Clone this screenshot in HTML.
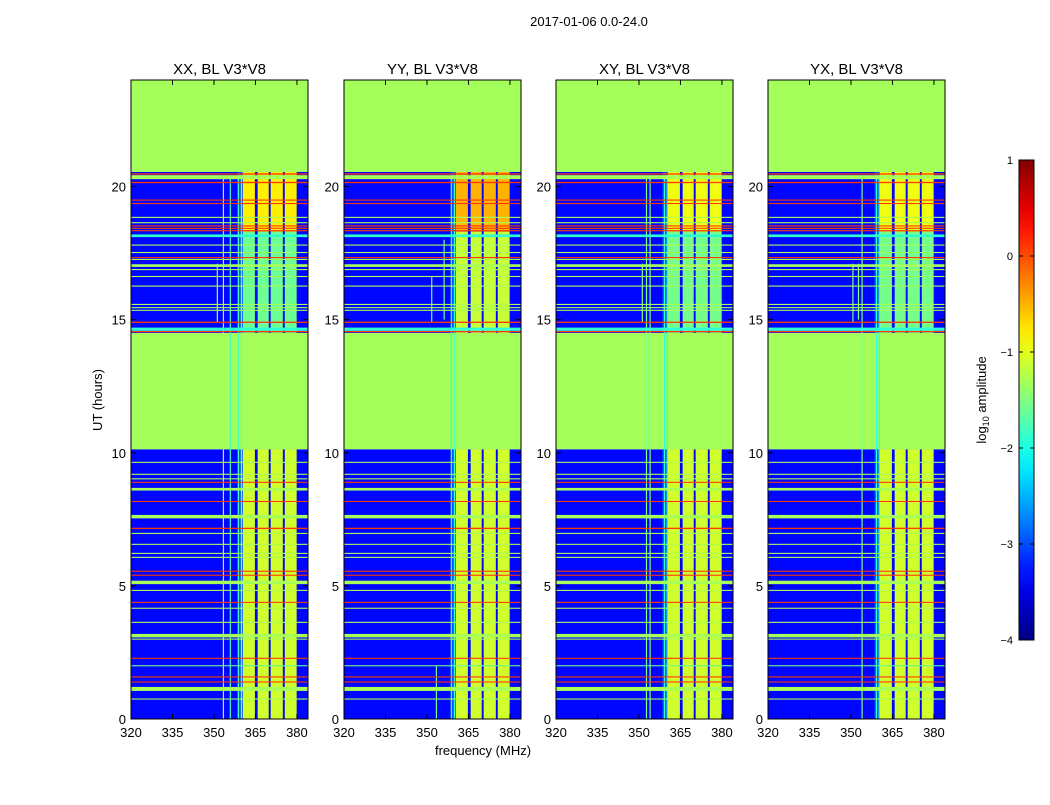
<!DOCTYPE html>
<html><head><meta charset="utf-8"><style>
body{margin:0;background:#fff;}
svg text{font-family:"Liberation Sans",sans-serif;fill:#000;}
</style></head><body>
<svg id="fig" width="1050" height="800" xmlns="http://www.w3.org/2000/svg">
<rect width="1050" height="800" fill="#fff"/>
<text x="589" y="26" font-size="13" text-anchor="middle">2017-01-06 0.0-24.0</text>
<text x="483" y="755" font-size="13" text-anchor="middle">frequency (MHz)</text>
<text transform="translate(102,400) rotate(-90)" font-size="13" text-anchor="middle">UT (hours)</text>
<g id="panels"></g>
<g id="cbar"></g>
</svg>
<script>
const panelTitles=["XX, BL V3*V8","YY, BL V3*V8","XY, BL V3*V8","YX, BL V3*V8"];
const xTicks=[320,335,350,365,380];
const yTicks=[0,5,10,15,20];
const cbTicks=[1,0,-1,-2,-3,-4];
// time segments: [t0,t1,backgroundLevel,bandLevel]
const segStart=[0,10.13,14.5,20.55];
const segEnd=[10.13,14.5,20.55,24];
const segBg=[-3.35,-1.32,-3.35,-1.32];
const segBand=[-1.1,-1.32,-1.6,-1.32];
const upperBand=[-0.8,-0.5,-0.95,-0.95];
const midBand=[-1.6,-1.15,-1.55,-1.55];
const bandF0=[360.4,365.8,370.5,375.6];
const bandF1=[364.8,369.8,374.9,379.9];
// RFI lines: time (h), thickness (h), level
const rfiT=[0.75,1.13,1.39,1.58,2.0,2.28,3.0,3.13,3.63,4.16,4.38,4.83,5.13,5.40,5.55,6.07,6.22,6.56,6.97,7.16,7.60,8.17,8.63,8.89,9.02,9.19,9.64,14.55,14.64,14.9,15.35,15.45,15.57,16.26,16.62,16.88,17.03,17.26,17.33,17.52,17.8,18.15,18.34,18.43,18.52,18.64,18.84,19.36,19.49,20.15,20.35,20.47];
const rfiW=[0.04,0.15,0.04,0.04,0.04,0.04,0.04,0.13,0.04,0.04,0.04,0.04,0.13,0.04,0.04,0.04,0.04,0.04,0.04,0.05,0.13,0.04,0.1,0.04,0.04,0.04,0.04,0.05,0.12,0.05,0.04,0.04,0.04,0.04,0.04,0.04,0.1,0.04,0.04,0.04,0.04,0.1,0.04,0.04,0.04,0.04,0.04,0.04,0.04,0.05,0.15,0.05];
const rfiV=[-1.3,-1.3,0.1,0.1,-1.6,0.1,-1.3,-1.3,-1.3,-1.3,0.1,-1.3,-1.3,0.1,0.1,-1.3,-1.3,-1.3,-1.3,0.1,-1.3,0.1,-1.3,0.1,-1.3,-1.3,-1.3,0.1,-1.9,0.1,-1.3,-1.3,-1.3,-1.3,-1.3,-1.3,-1.3,-1.3,0.1,-1.3,-1.3,-1.9,0.1,0.1,0.1,-1.3,-1.3,0.1,0.1,0.1,-1.3,0.1];
// vertical RFI per panel: freq, t0, t1, level
const vF=[[351,353.2,355.7,358.6,359.7],[351.5,353.2,356,358.6,359.7],[351,352.5,353.8,359,360],[350.5,352.5,353.8,359,360]];
const vT0=[[14.9,0,0,0,0],[14.9,0,15,0,0],[14.9,0,0,0,0],[14.9,15,0,0,0]];
const vT1=[[17.1,20.4,20.4,20.4,20.4],[16.6,2,18,20.4,20.4],[17.1,20.4,20.4,20.4,20.4],[17.1,17.1,20.4,20.4,20.4]];
const vV=[[-1.3,-1.3,-1.8,-1.8,-1.6],[-1.6,-1.6,-1.6,-1.9,-1.8],[-1.5,-1.5,-1.5,-1.9,-1.8],[-1.5,-1.5,-1.5,-1.9,-1.8]];

const NS="http://www.w3.org/2000/svg";
const PX=[131,344,556,768],PW=177,PT=80,PB=719;
const F0=320,F1=384,T0=0,T1=24;
function jet(v){const t=Math.max(0,Math.min(1,(v+4)/5));const c=x=>Math.round(255*Math.max(0,Math.min(1,1.5-Math.abs(x))));return `rgb(${c(4*t-3)},${c(4*t-2)},${c(4*t-1)})`;}
function yS(t){return PB-(t-T0)/(T1-T0)*(PB-PT);}
function mk(tag,attrs,parent){const e=document.createElementNS(NS,tag);for(const k in attrs)e.setAttribute(k,attrs[k]);parent.appendChild(e);return e;}
const root=document.getElementById('panels');
panelTitles.forEach((title,p)=>{
  const x0=PX[p];
  const xS=f=>x0+(f-F0)/(F1-F0)*PW;
  const g=mk('g',{},root);
  
  
  const cp=mk('clipPath',{id:'cp'+p},g);mk('rect',{x:x0,y:PT,width:PW,height:PB-PT},cp);
  const d=mk('g',{'clip-path':`url(#cp${p})`},g);
  segStart.forEach((s,i)=>{
    const r=mk('rect',{x:x0,y:yS(segEnd[i]),width:PW,height:yS(s)-yS(segEnd[i]),fill:jet(segBg[i])},d);
    
    
    if(segBand[i]!==segBg[i]){
      const subs=(i===2)?[[s,18.3,midBand[p]],[18.3,segEnd[i],upperBand[p]]]:[[s,segEnd[i],segBand[i]]];
      subs.forEach(sb=>{
        bandF0.forEach((bf,j)=>{
          const b=mk('rect',{x:xS(bf),y:yS(sb[1]),width:xS(bandF1[j])-xS(bf),height:yS(sb[0])-yS(sb[1]),fill:jet(sb[2])},d);
          
          
        });
        const e=mk('rect',{x:xS(358.5),y:yS(sb[1]),width:xS(360.4)-xS(358.5),height:yS(sb[0])-yS(sb[1]),fill:jet(-2.5),opacity:0.45},d);
        
        
      });
    }
  });
  vF[p].forEach((f,j)=>{
    const l=mk('rect',{x:xS(f),y:yS(vT1[p][j]),width:1.2,height:yS(vT0[p][j])-yS(vT1[p][j]),fill:jet(vV[p][j])},d);
    
    
  });
  rfiT.forEach((t,j)=>{
    const h=Math.max(1.1,yS(t)-yS(t+rfiW[j]));
    const l=mk('rect',{x:x0,y:yS(t)-h/2,width:PW,height:h,fill:jet(rfiV[j])},d);
    
    
  });
  mk('rect',{x:x0,y:PT,width:PW,height:PB-PT,fill:'none',stroke:'#000','stroke-width':1},g);
  xTicks.forEach(f=>{const x=xS(f);
    mk('line',{x1:x,x2:x,y1:PB,y2:PB-5,stroke:'#000'},g);mk('line',{x1:x,x2:x,y1:PT,y2:PT+5,stroke:'#000'},g);
    const t=mk('text',{x:x,y:PB+18,'font-size':13,'text-anchor':'middle'},g);t.textContent=f;
    
    
  });
  yTicks.forEach(v=>{const y=yS(v);
    mk('line',{x1:x0,x2:x0+5,y1:y,y2:y,stroke:'#000'},g);mk('line',{x1:x0+PW,x2:x0+PW-5,y1:y,y2:y,stroke:'#000'},g);
    const t=mk('text',{x:x0-5,y:y+5,'font-size':13,'text-anchor':'end'},g);t.textContent=v;
    
    
  });
  const tt=mk('text',{x:x0+PW/2,y:74,'font-size':15,'text-anchor':'middle'},g);tt.textContent=title;
  
  
});
const cb=document.getElementById('cbar');
const defs=mk('defs',{},cb);const lg=mk('linearGradient',{id:'jetg',x1:0,y1:1,x2:0,y2:0},defs);
for(let i=0;i<=20;i++){mk('stop',{offset:i/20,'stop-color':jet(-4+5*i/20)},lg);}
const CT=160,CB=640,CX=1019,CW=15;
mk('rect',{x:CX,y:CT,width:CW,height:CB-CT,fill:'url(#jetg)',stroke:'#000'},cb);
cbTicks.forEach(v=>{const y=CB-(v+4)/5*(CB-CT);
  mk('line',{x1:CX,x2:CX+4,y1:y,y2:y,stroke:'#000'},cb);mk('line',{x1:CX+CW,x2:CX+CW-4,y1:y,y2:y,stroke:'#000'},cb);
  const t=mk('text',{x:CX-6,y:y+4,'font-size':11,'text-anchor':'end'},cb);t.textContent=(v<0?'\u2212'+(-v):v);
  
  
});
const cl=mk('text',{transform:'translate(986,400) rotate(-90)','font-size':13,'text-anchor':'middle'},cb);
cl.innerHTML='log<tspan font-size="9" dy="3">10</tspan><tspan dy="-3"> amplitude</tspan>';


</script>
</body></html>
